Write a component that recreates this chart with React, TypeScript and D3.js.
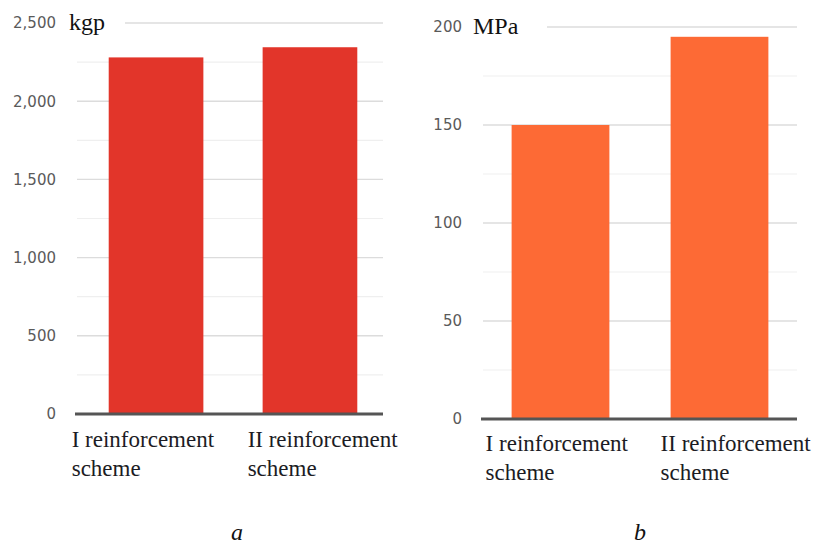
import { useEffect, useRef } from "react";
import * as d3 from "d3";

const categories = ["I reinforcement|scheme", "II reinforcement|scheme"];

const forceValues = [2280, 2345];
const forceTicks = [0, 500, 1000, 1500, 2000, 2500];
const forceMinor = [250, 750, 1250, 1750, 2250];

const stressValues = [150, 195];
const stressTicks = [0, 50, 100, 150, 200];
const stressMinor = [25, 75, 125, 175];

const W = 818, H = 545;

interface PanelCfg {
  values: number[];
  ticks: number[];
  minor: number[];
  max: number;
  unit: string;
  caption: string;
  color: string;
  gridX: [number, number];
  bandX: [number, number];
  y0: number;
  yTop: number;
  tickRight: number;
  unitX: number;
  unitY: number;
  topLineStart: number;
  labelOffsets: number[];
  labelY: number;
  captionX: number;
}

const panels: PanelCfg[] = [
  {
    values: forceValues, ticks: forceTicks, minor: forceMinor, max: 2500,
    unit: "kgp", caption: "a", color: "#e2352a",
    gridX: [77, 383], bandX: [81, 385], y0: 414, yTop: 23,
    tickRight: 56, unitX: 69, unitY: 30, topLineStart: 125,
    labelOffsets: [-37, -15], labelY: 447, captionX: 237,
  },
  {
    values: stressValues, ticks: stressTicks, minor: stressMinor, max: 200,
    unit: "MPa", caption: "b", color: "#fd6a35",
    gridX: [483, 797], bandX: [483, 797], y0: 419, yTop: 27,
    tickRight: 462, unitX: 473, unitY: 34, topLineStart: 547,
    labelOffsets: [-26, -10], labelY: 451, captionX: 640,
  },
];

const fmt = d3.format(",");

export default function App() {
  const ref = useRef<SVGSVGElement>(null);

  useEffect(() => {
    if (!ref.current) return;
    const svg = d3.select(ref.current);
    svg.selectAll("*").remove();
    svg.append("rect").attr("width", W).attr("height", H).attr("fill", "#fff");

    panels.forEach((p) => {
      const y = d3.scaleLinear().domain([0, p.max]).range([p.y0, p.yTop]);
      const x = d3.scaleBand<string>().domain(categories).range(p.bandX)
        .paddingInner(0.385).paddingOuter(0.18);
      const g = svg.append("g");

      // minor gridlines
      g.selectAll(".minor").data(p.minor).join("line")
        .attr("x1", p.gridX[0]).attr("x2", p.gridX[1])
        .attr("y1", (d) => y(d)).attr("y2", (d) => y(d))
        .attr("stroke", "#efefef").attr("stroke-width", 1.2);

      // major gridlines
      g.selectAll(".major").data(p.ticks.filter((t) => t > 0)).join("line")
        .attr("x1", (d) => (d === p.max ? p.topLineStart : p.gridX[0]))
        .attr("x2", p.gridX[1])
        .attr("y1", (d) => y(d)).attr("y2", (d) => y(d))
        .attr("stroke", "#dcdcdc").attr("stroke-width", 1.4);

      // tick labels
      g.selectAll(".tick").data(p.ticks).join("text")
        .attr("x", p.tickRight).attr("y", (d) => y(d)).attr("dy", "0.36em")
        .attr("text-anchor", "end")
        .style("font-family", "DejaVu Sans").style("font-size", "15px")
        .style("fill", "#5a5a5a")
        .text((d) => fmt(d));

      // bars
      g.selectAll(".bar").data(p.values).join("rect")
        .attr("x", (_, i) => x(categories[i])!)
        .attr("width", x.bandwidth())
        .attr("y", (d) => y(d))
        .attr("height", (d) => y(0) - y(d))
        .attr("fill", p.color);

      // baseline
      g.append("line")
        .attr("x1", p.gridX[0] - 2).attr("x2", p.gridX[1])
        .attr("y1", y(0)).attr("y2", y(0))
        .attr("stroke", "#555").attr("stroke-width", 3);

      // unit
      g.append("text").attr("x", p.unitX).attr("y", p.unitY)
        .style("font-family", "Liberation Serif").style("font-size", "24px")
        .style("fill", "#111").text(p.unit);

      // category labels
      categories.forEach((c, i) => {
        const t = g.append("text")
          .attr("x", x(c)! + p.labelOffsets[i]).attr("y", p.labelY)
          .style("font-family", "Liberation Serif").style("font-size", "23px")
          .style("fill", "#1c1c24");
        c.split("|").forEach((line, j) => {
          t.append("tspan").attr("x", x(c)! + p.labelOffsets[i])
            .attr("dy", j === 0 ? 0 : 29).text(line);
        });
      });

      // caption
      g.append("text").attr("x", p.captionX).attr("y", 540)
        .attr("text-anchor", "middle")
        .style("font-family", "Liberation Serif").style("font-style", "italic")
        .style("font-size", "24px").style("fill", "#111").text(p.caption);
    });
  }, []);

  return (
    <svg ref={ref} width={W} height={H}
      style={{ position: "absolute", left: 0, top: 0 }} />
  );
}
